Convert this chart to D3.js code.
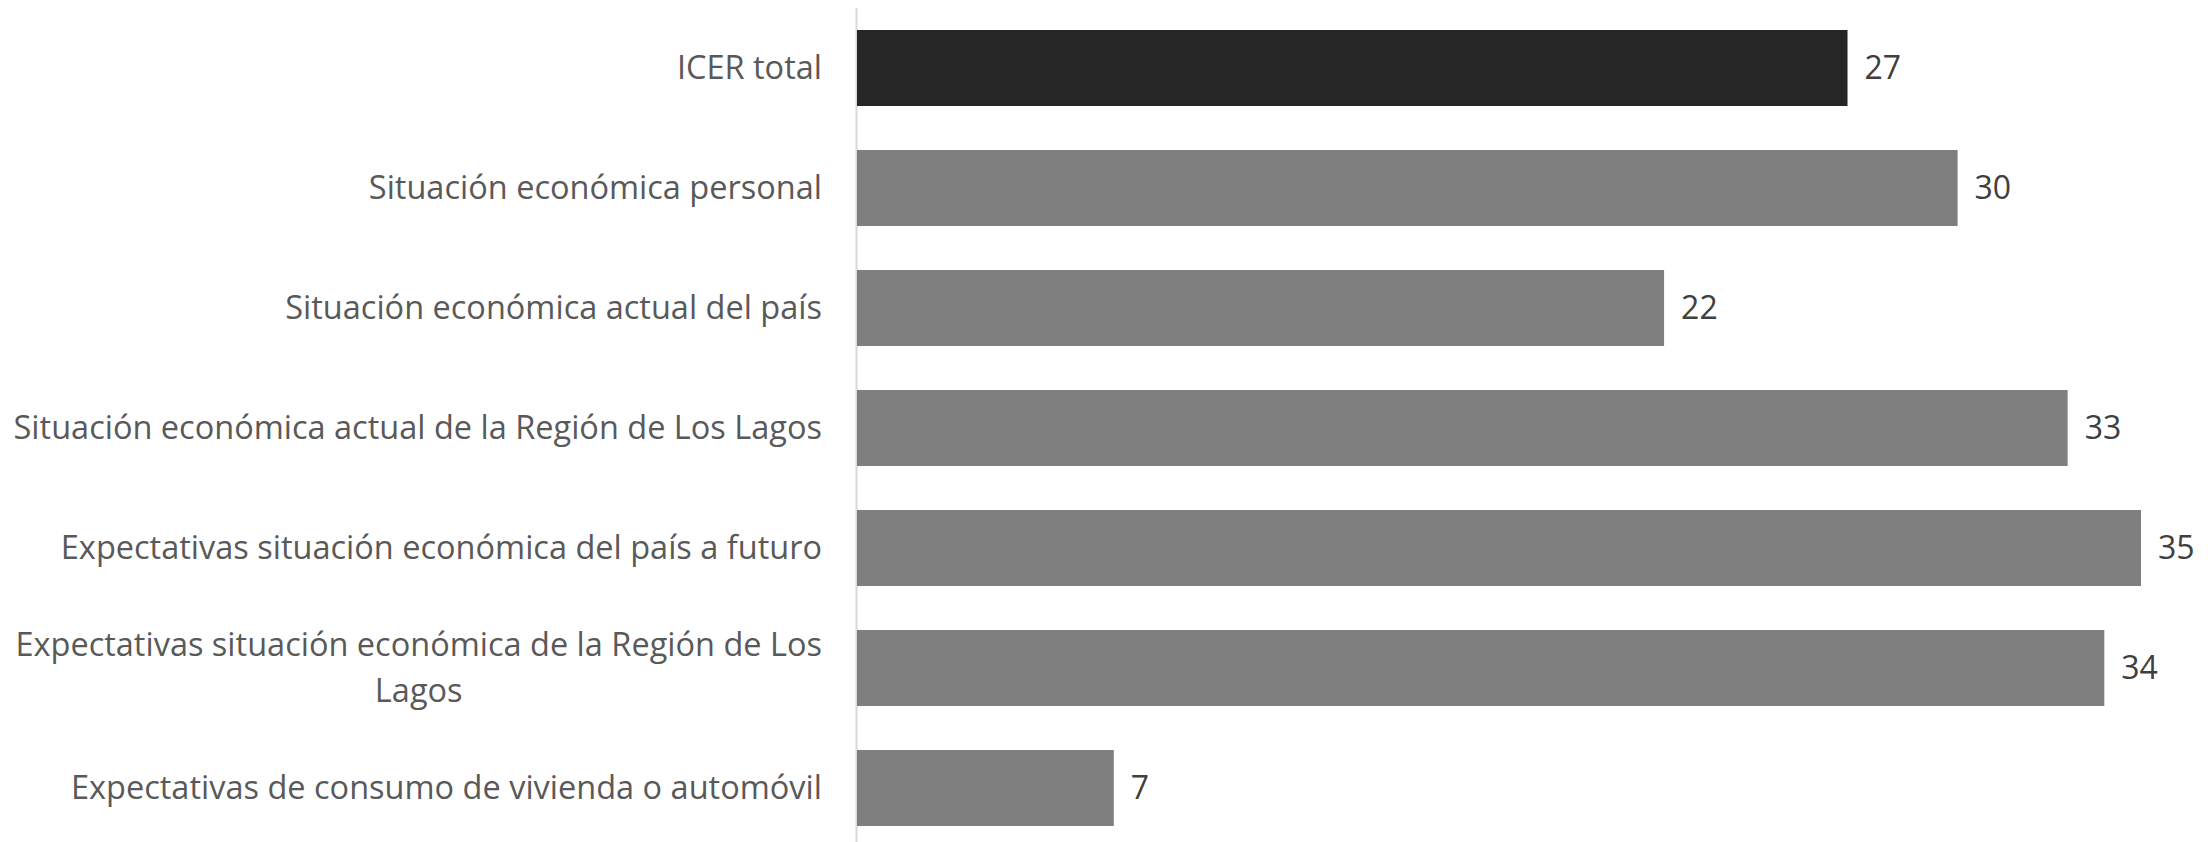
<!DOCTYPE html>
<html>
<head>
<meta charset="utf-8">
<script src="https://cdn.jsdelivr.net/npm/d3@7"></script>
<style>
  body { margin: 0; background: #fff; }
  text { font-family: "Open Sans", sans-serif; }
</style>
</head>
<body>
<div id="chart"></div>
<script>
var categories = [
  "ICER total",
  "Situación económica personal",
  "Situación económica actual del país",
  "Situación económica actual de la Región de Los Lagos",
  "Expectativas situación económica del país a futuro",
  "Expectativas situación económica de la Región de Los Lagos",
  "Expectativas de consumo de vivienda o automóvil"
];
var values = [27, 30, 22, 33, 35, 34, 7];
var barColors = ["#262626", "#7f7f7f", "#7f7f7f", "#7f7f7f", "#7f7f7f", "#7f7f7f", "#7f7f7f"];

var data = categories.map(function(c, i) { return {name: c, value: values[i], color: barColors[i]}; });

var margin = {top: 0, right: 0, bottom: 0, left: 857},
    width = 2210 - margin.left,
    height = 842;

var svg = d3.select("#chart").append("svg")
    .attr("width", 2210)
    .attr("height", 842);

var g = svg.append("g")
    .attr("transform", "translate(" + margin.left + "," + margin.top + ")");

var xScale = d3.scaleLinear()
    .domain([0, 35])
    .range([0, 1284]);

var yScale = d3.scaleBand()
    .domain(categories)
    .range([8, 848])
    .paddingInner(44 / 120)
    .paddingOuter(22 / 120);

// axis line
g.append("line")
    .attr("x1", -0.5).attr("x2", -0.5)
    .attr("y1", 8).attr("y2", height)
    .style("stroke", "#d9d9d9")
    .style("stroke-width", 2);

g.selectAll(".bars")
  .data(data)
  .enter().append("rect")
    .attr("class", "bars")
    .attr("x", 0)
    .attr("y", function(d) { return yScale(d.name); })
    .attr("width", function(d) { return xScale(d.value); })
    .attr("height", yScale.bandwidth())
    .style("fill", function(d) { return d.color; });

g.selectAll(".vlabel")
  .data(data)
  .enter().append("text")
    .attr("class", "vlabel")
    .attr("x", function(d) { return xScale(d.value) + 17; })
    .attr("y", function(d) { return yScale(d.name) + yScale.bandwidth() / 2; })
    .attr("dy", "0.35em")
    .style("font-size", "32px")
    .style("fill", "#404040")
    .text(function(d) { return d.value; });

var catLabels = g.selectAll(".clabel")
  .data(data)
  .enter().append("text")
    .attr("class", "clabel")
    .attr("text-anchor", "middle")
    .style("font-size", "32.5px")
    .style("fill", "#595959");

catLabels.each(function(d) {
  var el = d3.select(this);
  var words = d.name.split(" ");
  var lines = [], line = [];
  var maxW = 840;
  var tmp = el.append("tspan");
  words.forEach(function(w) {
    line.push(w);
    tmp.text(line.join(" "));
    if (tmp.node().getComputedTextLength() > maxW && line.length > 1) {
      line.pop();
      lines.push(line.join(" "));
      line = [w];
    }
  });
  lines.push(line.join(" "));
  tmp.remove();
  var cy = yScale(d.name) + yScale.bandwidth() / 2;
  var lh = 46;
  var widths = lines.map(function(l) {
    var t = el.append("tspan").text(l);
    var w = t.node().getComputedTextLength();
    t.remove();
    return w;
  });
  var maxLine = d3.max(widths);
  var cx = -35 - maxLine / 2;
  lines.forEach(function(l, i) {
    el.append("tspan")
      .attr("x", cx)
      .attr("y", cy + (i - (lines.length - 1) / 2) * lh)
      .attr("dy", "0.35em")
      .text(l);
  });
});
</script>
</body>
</html>
